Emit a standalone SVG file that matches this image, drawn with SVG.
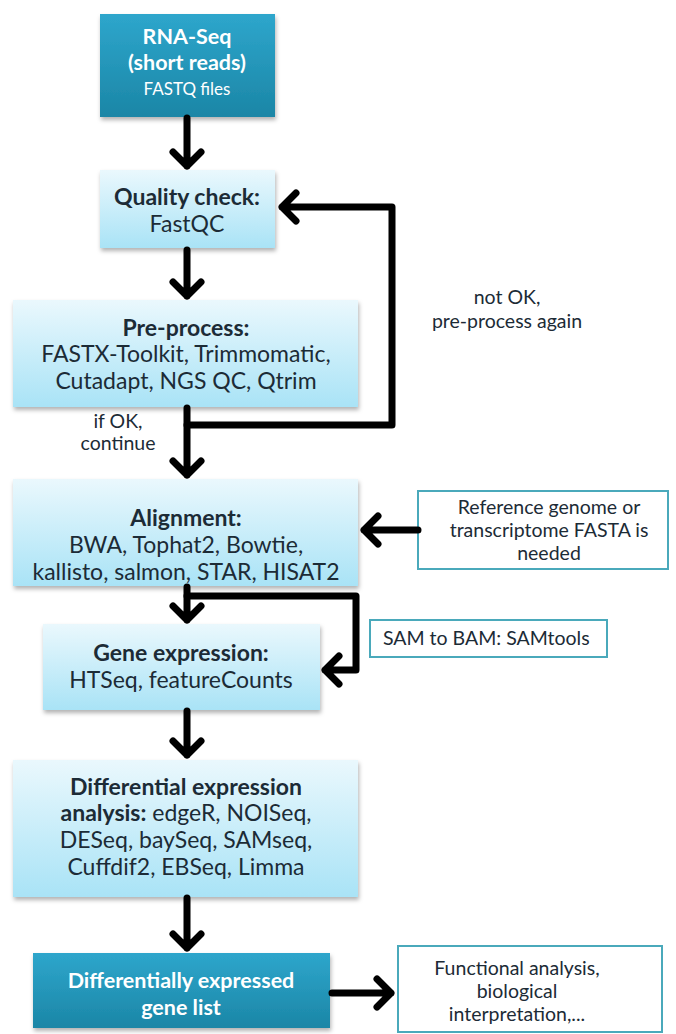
<svg xmlns="http://www.w3.org/2000/svg" width="676" height="1034" viewBox="0 0 676 1034">
<defs>
<linearGradient id="dark" x1="0" y1="0" x2="0" y2="1"><stop offset="0" stop-color="#2ea6cc"/><stop offset="1" stop-color="#1b86a6"/></linearGradient>
<linearGradient id="light" x1="0" y1="0" x2="0" y2="1"><stop offset="0" stop-color="#eaf8fd"/><stop offset="1" stop-color="#a9e3f6"/></linearGradient>
<filter id="sh" x="-10%" y="-10%" width="120%" height="130%"><feDropShadow dx="1" dy="3" stdDeviation="2" flood-color="#000" flood-opacity="0.3"/></filter>
<style>
.t{font-family:Lato,"Open Sans","Liberation Sans",sans-serif;font-size:23px;fill:#1c2b36;text-anchor:middle}
.b{font-weight:bold}
.w{fill:#ffffff;font-size:21.5px}
.s{font-size:19.5px}
.dk{fill:url(#dark);filter:url(#sh)}
.lt{fill:url(#light);filter:url(#sh)}
.ob{fill:#ffffff;stroke:#4aa9bb;stroke-width:2}
.ar{fill:none;stroke:#000;stroke-width:7;stroke-linecap:round;stroke-linejoin:round}
</style>
</defs>
<rect width="676" height="1034" fill="#ffffff"/>
<g id="rnaseq"><rect class="dk" x="100" y="14" width="175" height="103"/>
<text class="t b w" x="187" y="44">RNA-Seq</text>
<text class="t b w" x="187" y="70">(short reads)</text>
<text class="t w" x="187" y="95" style="font-size:17px">FASTQ files</text></g>
<g id="qc"><rect class="lt" x="100" y="170" width="175" height="78"/>
<text class="t b" x="187" y="205">Quality check:</text>
<text class="t" x="187" y="232">FastQC</text></g>
<g id="pre"><rect class="lt" x="13" y="300" width="345" height="107"/>
<text class="t b" x="186" y="336">Pre-process:</text>
<text class="t" x="186" y="362">FASTX-Toolkit, Trimmomatic,</text>
<text class="t" x="186" y="389">Cutadapt, NGS QC, Qtrim</text></g>
<g id="align"><rect class="lt" x="13" y="479" width="345" height="107"/>
<text class="t b" x="186" y="526">Alignment:</text>
<text class="t" x="186" y="553">BWA, Tophat2, Bowtie,</text>
<text class="t" x="186" y="580">kallisto, salmon, STAR, HISAT2</text></g>
<g id="ref"><rect class="ob" x="418" y="491" width="250" height="78"/>
<text class="t s" x="549" y="514">Reference genome or</text>
<text class="t s" x="549" y="537">transcriptome FASTA is</text>
<text class="t s" x="549" y="560">needed</text></g>
<g id="sam"><rect class="ob" x="370" y="620" width="237" height="37"/>
<text class="t s" x="383" y="645" style="text-anchor:start">SAM to BAM: SAMtools</text></g>
<g id="gene"><rect class="lt" x="43" y="624" width="277" height="86"/>
<text class="t b" x="181" y="661">Gene expression:</text>
<text class="t" x="181" y="688">HTSeq, featureCounts</text></g>
<g id="diff"><rect class="lt" x="13" y="760" width="345" height="137"/>
<text class="t b" x="186" y="795">Differential expression</text>
<text class="t" x="186" y="821"><tspan class="b">analysis:</tspan> edgeR, NOISeq,</text>
<text class="t" x="186" y="848">DESeq, baySeq, SAMseq,</text>
<text class="t" x="186" y="875">Cuffdif2, EBSeq, Limma</text></g>
<g id="degl"><rect class="dk" x="33" y="953" width="297" height="75"/>
<text class="t b w" x="181" y="988">Differentially expressed</text>
<text class="t b w" x="181" y="1015">gene list</text></g>
<g id="func"><rect class="ob" x="398" y="946" width="264" height="86" stroke-width="3"/>
<text class="t s" x="517" y="975">Functional analysis,</text>
<text class="t s" x="517" y="998">biological</text>
<text class="t s" x="517" y="1021">interpretation,...</text></g>
<g id="labels">
<text class="t s" x="507" y="304">not OK,</text>
<text class="t s" x="507" y="328">pre-process again</text>
<text class="t s" x="118" y="428">if OK,</text>
<text class="t s" x="118" y="450">continue</text>
</g>
<g id="connectors">
<path class="ar" d="M187 118 V166 M173 152 L187 166 L201 152"/>
<path class="ar" d="M187 250 V296 M173 282 L187 296 L201 282"/>
<path class="ar" d="M187 408 V475 M173 461 L187 475 L201 461"/>
<path class="ar" d="M187 425 H392 V207 H282 M296 193 L282 207 L296 221"/>
<path class="ar" d="M418 530 H364 M378 516 L364 530 L378 544"/>
<path class="ar" d="M187 587 V620 M173 606 L187 620 L201 606"/>
<path class="ar" d="M187 596 H356 V670 H325 M339 656 L325 670 L339 684"/>
<path class="ar" d="M187 711 V755 M173 741 L187 755 L201 741"/>
<path class="ar" d="M187 898 V948 M173 934 L187 948 L201 934"/>
<path class="ar" d="M332 993 H391 M377 979 L391 993 L377 1007"/>
</g>
</svg>
